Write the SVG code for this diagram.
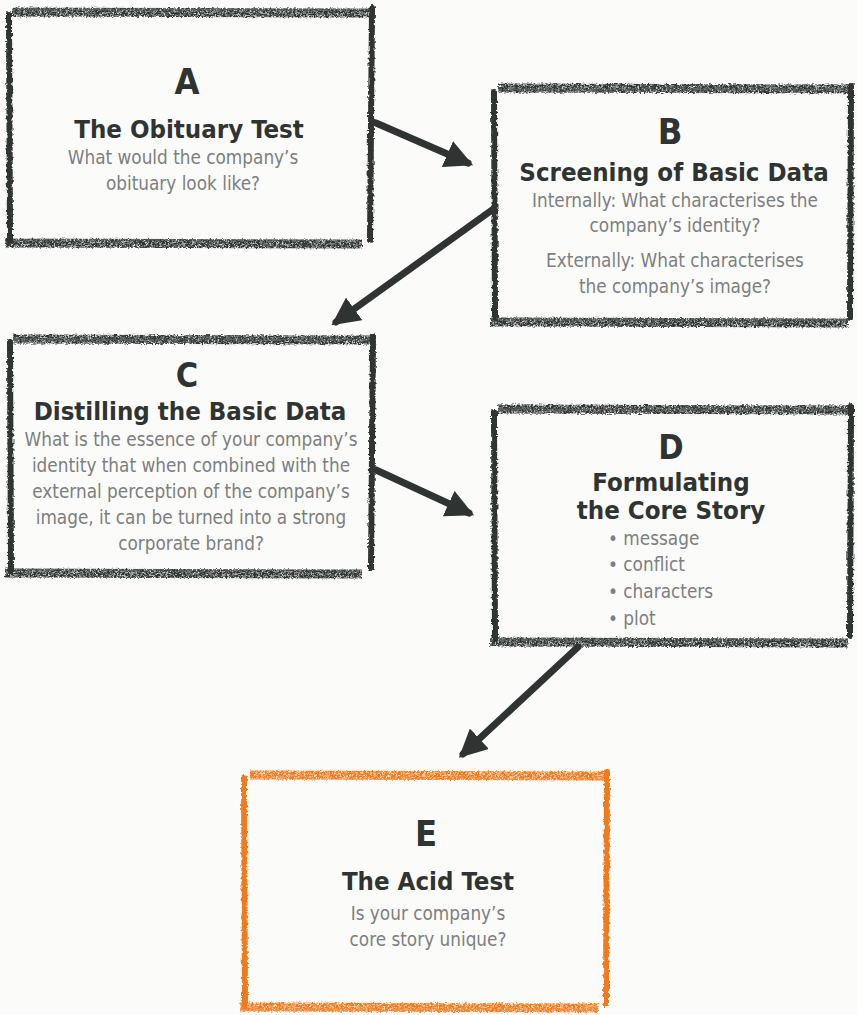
<svg xmlns="http://www.w3.org/2000/svg" width="857" height="1015" viewBox="0 0 857 1015">
<defs>
<filter id="rough" x="-5%" y="-5%" width="110%" height="110%">
<feTurbulence type="fractalNoise" baseFrequency="0.35" numOctaves="2" seed="3" result="n"/>
<feDisplacementMap in="SourceGraphic" in2="n" scale="4" xChannelSelector="R" yChannelSelector="G"/>
</filter>
<filter id="chalk" x="-5%" y="-20%" width="110%" height="140%">
<feTurbulence type="fractalNoise" baseFrequency="0.5 0.9" numOctaves="2" seed="7" result="n"/>
<feColorMatrix in="n" type="matrix" values="0 0 0 0 0  0 0 0 0 0  0 0 0 0 0  0 0 0 -2.2 1.9" result="m"/>
<feComposite in="SourceGraphic" in2="m" operator="in" result="c"/>
<feDisplacementMap in="c" in2="n" scale="4" xChannelSelector="R" yChannelSelector="G"/>
</filter>
<marker id="ah" viewBox="0 0 10 10" refX="8" refY="5" markerWidth="4" markerHeight="4" orient="auto" markerUnits="strokeWidth">
<path d="M0,0 L10,5 L0,10 Z" fill="#2f3432"/>
</marker>
</defs>
<style>
.bg{fill:#fbfbfa}
.side{stroke:#2f3432;stroke-width:6;stroke-linecap:round;fill:none}
.band{stroke:#2f3432;stroke-width:9;fill:none}
.oside{stroke:#f07a1a;stroke-width:6;stroke-linecap:round;fill:none}
.oband{stroke:#f07a1a;stroke-width:9;fill:none}
.conn{stroke:#2f3432;stroke-width:7;fill:none;stroke-linecap:round}
.big{font-family:"DejaVu Sans Condensed","DejaVu Sans","Liberation Sans",sans-serif;font-weight:bold;font-size:36px;fill:#2f3432;text-anchor:middle}
.ttl{font-family:"DejaVu Sans Condensed","DejaVu Sans","Liberation Sans",sans-serif;font-weight:bold;font-size:25.6px;fill:#2f3432;text-anchor:middle}
.txt{font-family:"DejaVu Sans Condensed","DejaVu Sans","Liberation Sans",sans-serif;font-size:18.8px;fill:#7d7f80;text-anchor:middle}
.bul{font-family:"DejaVu Sans Condensed","DejaVu Sans","Liberation Sans",sans-serif;font-size:18.8px;fill:#7d7f80}
</style>
<rect class="bg" x="0" y="0" width="857" height="1015"/>

<g id="connectors">
<line class="conn" x1="376" y1="123" x2="468" y2="163" marker-end="url(#ah)"/>
<line class="conn" x1="492" y1="210" x2="336" y2="322" marker-end="url(#ah)"/>
<line class="conn" x1="376" y1="470" x2="469" y2="513" marker-end="url(#ah)"/>
<line class="conn" x1="578" y1="647" x2="463" y2="754" marker-end="url(#ah)"/>
</g>

<g id="nodeA">
<g filter="url(#rough)">
<line class="side" x1="9" y1="14" x2="10" y2="242"/>
<line class="side" x1="372" y1="8" x2="370" y2="240"/>
</g>
<g filter="url(#chalk)">
<line class="band" x1="12" y1="12" x2="375" y2="13"/>
<line class="band" x1="5" y1="243" x2="362" y2="244"/>
</g>
<text class="big" x="187" y="94">A</text>
<text class="ttl" x="189" y="138">The Obituary Test</text>
<text class="txt" x="183" y="164">What would the company’s</text>
<text class="txt" x="183" y="190">obituary look like?</text>
</g>

<g id="nodeB">
<g filter="url(#rough)">
<line class="side" x1="494" y1="92" x2="495" y2="318"/>
<line class="side" x1="851" y1="86" x2="850" y2="318"/>
</g>
<g filter="url(#chalk)">
<line class="band" x1="498" y1="88" x2="853" y2="89"/>
<line class="band" x1="490" y1="322" x2="848" y2="323"/>
</g>
<text class="big" x="670" y="144">B</text>
<text class="ttl" x="674" y="181">Screening of Basic Data</text>
<text class="txt" x="675" y="207">Internally: What characterises the</text>
<text class="txt" x="675" y="232">company’s identity?</text>
<text class="txt" x="675" y="267">Externally: What characterises</text>
<text class="txt" x="675" y="293">the company’s image?</text>
</g>

<g id="nodeC">
<g filter="url(#rough)">
<line class="side" x1="10" y1="342" x2="11" y2="572"/>
<line class="side" x1="373" y1="336" x2="371" y2="568"/>
</g>
<g filter="url(#chalk)">
<line class="band" x1="13" y1="339" x2="376" y2="340"/>
<line class="band" x1="5" y1="573" x2="362" y2="574"/>
</g>
<text class="big" x="187" y="387" style="font-size:34px">C</text>
<text class="ttl" x="190" y="420">Distilling the Basic Data</text>
<text class="txt" x="191" y="446">What is the essence of your company’s</text>
<text class="txt" x="191" y="472">identity that when combined with the</text>
<text class="txt" x="191" y="498">external perception of the company’s</text>
<text class="txt" x="191" y="524">image, it can be turned into a strong</text>
<text class="txt" x="191" y="550">corporate brand?</text>
</g>

<g id="nodeD">
<g filter="url(#rough)">
<line class="side" x1="494" y1="412" x2="495" y2="640"/>
<line class="side" x1="851" y1="406" x2="850" y2="636"/>
</g>
<g filter="url(#chalk)">
<line class="band" x1="498" y1="409" x2="853" y2="410"/>
<line class="band" x1="490" y1="642" x2="848" y2="643"/>
</g>
<text class="big" x="671" y="459" style="font-size:34px">D</text>
<text class="ttl" x="671" y="491">Formulating<tspan x="671" dy="27.5">the Core Story</tspan></text>
<text class="bul" x="608" y="545">• message</text>
<text class="bul" x="608" y="571">• conflict</text>
<text class="bul" x="608" y="598">• characters</text>
<text class="bul" x="608" y="625">• plot</text>
</g>

<g id="nodeE">
<g filter="url(#rough)">
<line class="oside" x1="244" y1="778" x2="245" y2="1006"/>
<line class="oside" x1="607" y1="772" x2="606" y2="1004"/>
</g>
<g filter="url(#chalk)">
<line class="oband" x1="250" y1="775" x2="608" y2="776"/>
<line class="oband" x1="240" y1="1007" x2="598" y2="1008"/>
</g>
<text class="big" x="426" y="846">E</text>
<text class="ttl" x="428" y="890">The Acid Test</text>
<text class="txt" x="428" y="920">Is your company’s</text>
<text class="txt" x="428" y="946">core story unique?</text>
</g>
</svg>
